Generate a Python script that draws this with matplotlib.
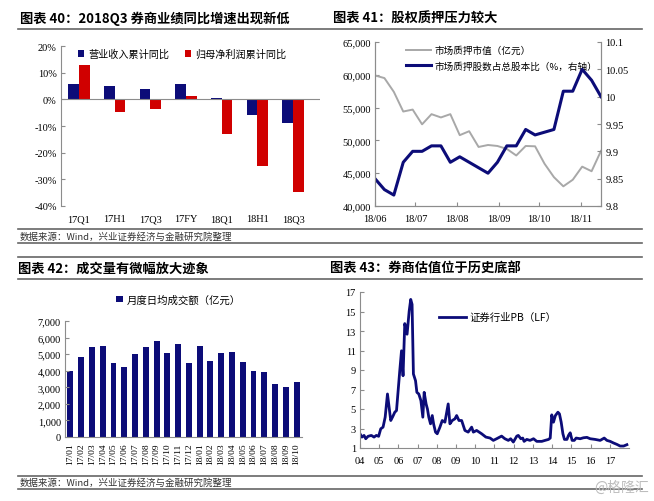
import matplotlib
matplotlib.use("Agg")
from matplotlib import pyplot as plt
from matplotlib.lines import Line2D
import matplotlib.dates as mdates
from matplotlib.ticker import FuncFormatter, FixedLocator
import datetime as dt

plt.rcParams['font.family'] = ['Noto Sans CJK SC', 'DejaVu Sans']
SERIF = ['Liberation Serif', 'Noto Sans CJK SC']

NAVY = '#0c0c78'
RED = '#d00000'
GRAY = '#a8a8a8'
SPINE = '#8c8c8c'

# --- chart 40: brokerage results yoy
quarters = ['17Q1', '17H1', '17Q3', '17FY', '18Q1', '18H1', '18Q3']
revenue_yoy = [5.6, 5.0, 4.0, 5.9, 0.5, -5.9, -9.0]
profit_yoy = [12.7, -4.7, -3.7, 1.1, -13.1, -25.0, -34.6]

# --- chart 41: equity pledge (weekly)
pledge_start = dt.date(2018, 6, 1)
pledge_value = [59900, 59500, 57400, 54400, 54700, 52450, 54000, 53500, 54000,
                50800, 51400, 49000, 49300, 49150, 48700, 47700, 49150, 49100,
                46450, 44400, 43000, 44000, 46000, 45300, 48400]
pledge_ratio = [9.85, 9.83, 9.82, 9.88, 9.90, 9.90, 9.91, 9.91, 9.88, 9.89,
                9.88, 9.87, 9.86, 9.88, 9.91, 9.91, 9.94, 9.93, 9.935, 9.94,
                10.01, 10.01, 10.05, 10.03, 10.0]

# --- chart 42: monthly avg daily turnover
months = ['17/01', '17/02', '17/03', '17/04', '17/05', '17/06', '17/07', '17/08',
          '17/09', '17/10', '17/11', '17/12', '18/01', '18/02', '18/03', '18/04',
          '18/05', '18/06', '18/07', '18/08', '18/09', '18/10']
turnover = [4000, 4800, 5460, 5500, 4440, 4240, 4980, 5440, 5820, 5080, 5600,
            4440, 5500, 4600, 5040, 5120, 4540, 3960, 3900, 3220, 3000, 3300]

# --- chart 43: brokerage PB(LF)
pb_year = [2004.00, 2004.10, 2004.21, 2004.30, 2004.42, 2004.59, 2004.73, 2004.85,
           2004.97, 2005.08, 2005.20, 2005.31, 2005.43, 2005.60, 2005.70, 2005.81,
           2005.90, 2006.07, 2006.16, 2006.24, 2006.33, 2006.45, 2006.56, 2006.64,
           2006.71, 2006.78, 2006.89, 2006.96, 2007.06, 2007.17, 2007.27, 2007.34,
           2007.44, 2007.51, 2007.58, 2007.67, 2007.76, 2007.83, 2007.93, 2008.02,
           2008.16, 2008.28, 2008.42, 2008.59, 2008.68, 2008.80, 2008.94, 2009.03,
           2009.15, 2009.29, 2009.46, 2009.63, 2009.81, 2009.90, 2010.07, 2010.33,
           2010.55, 2010.77, 2010.94, 2011.11, 2011.37, 2011.54, 2011.72, 2011.84,
           2011.98, 2012.16, 2012.24, 2012.37, 2012.47, 2012.54, 2012.68, 2012.85,
           2013.03, 2013.20, 2013.46, 2013.63, 2013.81, 2013.90, 2013.98, 2014.07,
           2014.17, 2014.30, 2014.38, 2014.47, 2014.56, 2014.64, 2014.77, 2014.85,
           2014.94, 2015.04, 2015.15, 2015.25, 2015.46, 2015.63, 2015.81, 2015.98,
           2016.24, 2016.50, 2016.71, 2016.85, 2017.02, 2017.20, 2017.37, 2017.54,
           2017.72, 2017.89]
pb_value = [2.46, 2.12, 2.29, 1.95, 2.20, 2.29, 2.12, 2.29,
            2.20, 2.97, 3.14, 4.16, 6.54, 3.82, 4.20, 4.67,
            4.84, 8.93, 10.97, 8.41, 13.76, 12.67, 15.05, 16.24,
            15.73, 8.59, 7.90, 6.71, 6.54, 5.86, 4.16, 6.71,
            5.52, 5.00, 4.16, 3.48, 4.33, 3.48, 2.63, 2.46,
            3.14, 3.82, 3.65, 5.52, 3.48, 3.82, 3.99, 4.33,
            3.82, 3.82, 2.80, 2.63, 3.14, 2.63, 2.80, 2.46,
            2.12, 2.02, 1.78, 1.95, 2.22, 1.95, 1.78, 1.95,
            1.61, 2.22, 2.29, 1.95, 2.02, 1.68, 1.88, 1.78,
            1.95, 1.68, 1.68, 1.78, 1.88, 2.02, 4.40, 3.65,
            4.33, 4.67, 4.50, 3.65, 2.46, 1.88, 1.88, 2.29,
            2.56, 1.78, 1.78, 2.02, 1.95, 2.05, 2.09, 1.95,
            1.88, 1.78, 2.02, 1.78, 1.68, 1.51, 1.37, 1.20,
            1.20, 1.34]
pb_ticks = list(range(2004, 2018))

W, H = 654, 502
fig = plt.figure(figsize=(W / 100, H / 100), dpi=100)


def hline(y, x0=18, x1=642, lw=1.2, c='#666666'):
    fig.add_artist(Line2D([x0 / W, x1 / W], [1 - y / H, 1 - y / H], lw=lw, color=c))


def ftext(x, y, s, **kw):
    fig.text(x / W, 1 - y / H, s, va='center', ha='left', **kw)


def axes_px(l, t, r, b):
    return fig.add_axes([l / W, 1 - b / H, (r - l) / W, (b - t) / H])


def style(ax, spines=('left', 'bottom')):
    for k, sp in ax.spines.items():
        sp.set_visible(k in spines)
        sp.set_color(SPINE)
        sp.set_linewidth(0.8)
    ax.tick_params(direction='in', length=3, width=0.8, color=SPINE,
                   labelsize=7.5, pad=3)
    for lbl in ax.get_xticklabels() + ax.get_yticklabels():
        lbl.set_family(SERIF)


# frame lines and titles
for y in (30, 230, 244, 258, 280, 477, 490):
    hline(y)
ftext(20, 19, '图表 40：2018Q3 券商业绩同比增速出现新低', fontsize=9.5, fontweight='bold')
ftext(333, 19, '图表 41：股权质押压力较大', fontsize=9.5, fontweight='bold')
ftext(18, 269, '图表 42：成交量有微幅放大迹象', fontsize=9.5, fontweight='bold')
ftext(330, 269, '图表 43：券商估值位于历史底部', fontsize=9.5, fontweight='bold')
src = '数据来源：Wind，兴业证券经济与金融研究院整理'
ftext(20, 237, src, fontsize=6.8, color='#333333')
ftext(20, 483, src, fontsize=6.8, color='#333333')
ftext(594, 488, '@格隆汇', fontsize=10, color='#bdbdbd')

# chart 40
ax1 = axes_px(61, 47, 320, 207)
xs = list(range(len(quarters)))
ax1.bar([x - 0.15 for x in xs], revenue_yoy, width=0.3, color=NAVY, label='营业收入累计同比')
ax1.bar([x + 0.15 for x in xs], profit_yoy, width=0.3, color=RED, label='归母净利润累计同比')
ax1.axhline(0, color=SPINE, lw=0.8)
ax1.set_xlim(-0.5, 6.75)
ax1.set_ylim(-40, 20)
ax1.set_yticks(range(-40, 21, 10))
ax1.yaxis.set_major_formatter(FuncFormatter(lambda v, p: '%d%%' % v))
ax1.set_xticks(xs)
ax1.set_xticklabels(quarters)
style(ax1, spines=('left',))
ax1.tick_params(axis='x', length=0, pad=6)
ax1.legend(loc='upper left', bbox_to_anchor=(0.03, 1.04), ncol=2, frameon=False,
           fontsize=7.3, handlelength=0.6, handleheight=0.6, columnspacing=1.6,
           handletextpad=0.4)

# chart 41
ax2 = axes_px(375, 43, 601, 207)
dates = [pledge_start + dt.timedelta(days=7 * i) for i in range(len(pledge_value))]
l1, = ax2.plot(dates, pledge_value, color=GRAY, lw=1.4, label='市场质押市值（亿元）')
ax2.set_ylim(40000, 65000)
ax2.set_yticks(range(40000, 65001, 5000))
ax2.yaxis.set_major_formatter(FuncFormatter(lambda v, p: '{:,.0f}'.format(v)))
ax2.set_xlim(dates[0], dates[-1])
ax2.xaxis.set_major_locator(mdates.MonthLocator())
ax2.xaxis.set_major_formatter(mdates.DateFormatter('%y/%m'))
ax2r = ax2.twinx()
l2, = ax2r.plot(dates, pledge_ratio, color=NAVY, lw=2.2, label='市场质押股数占总股本比（%，右轴）')
ax2r.set_ylim(9.8, 10.1)
ax2r.set_yticks([9.8, 9.85, 9.9, 9.95, 10.0, 10.05, 10.1])
ax2r.yaxis.set_major_formatter(FuncFormatter(lambda v, p: ('%.2f' % v).rstrip('0').rstrip('.')))
style(ax2, spines=('left', 'bottom', 'right'))
style(ax2r, spines=('left', 'bottom', 'right'))
ax2.tick_params(axis='x', pad=6)
ax2.legend([l1, l2], [l1.get_label(), l2.get_label()], loc='upper left',
           bbox_to_anchor=(0.1, 1.03), frameon=False, fontsize=6.9,
           handlelength=2.6, handletextpad=0.3, labelspacing=0.6)

# chart 42
ax3 = axes_px(65, 322, 302, 438)
ax3.bar(range(len(months)), turnover, width=0.55, color=NAVY, label='月度日均成交额（亿元）')
ax3.set_xlim(-0.5, len(months) - 0.5)
ax3.set_ylim(0, 7000)
ax3.set_yticks(range(0, 7001, 1000))
ax3.yaxis.set_major_formatter(FuncFormatter(lambda v, p: '{:,.0f}'.format(v)))
ax3.set_xticks(range(len(months)))
ax3.set_xticklabels(months, rotation=90)
style(ax3)
ax3.tick_params(axis='x', length=0, labelsize=6.8, pad=4)
ax3.legend(loc='lower center', bbox_to_anchor=(0.48, 1.06), frameon=False, fontsize=7.5,
           handlelength=0.6, handleheight=0.6, handletextpad=0.4)

# chart 43
ax4 = axes_px(360, 293, 629, 449)
ax4.plot(pb_year, pb_value, color=NAVY, lw=2.0, label='证券行业PB（LF）')
ax4.set_xlim(2004, 2018)
ax4.set_ylim(1, 17)
ax4.set_yticks(range(1, 18, 2))
ax4.xaxis.set_major_locator(FixedLocator(pb_ticks))
ax4.set_xticklabels(['%02d' % (y % 100) for y in pb_ticks])
style(ax4)
ax4.tick_params(axis='x', pad=6)
ax4.legend(loc='upper left', bbox_to_anchor=(0.26, 0.93), frameon=False, fontsize=7.5,
           handlelength=2.6, handletextpad=0.3)

fig.savefig('out.png', dpi=100)
